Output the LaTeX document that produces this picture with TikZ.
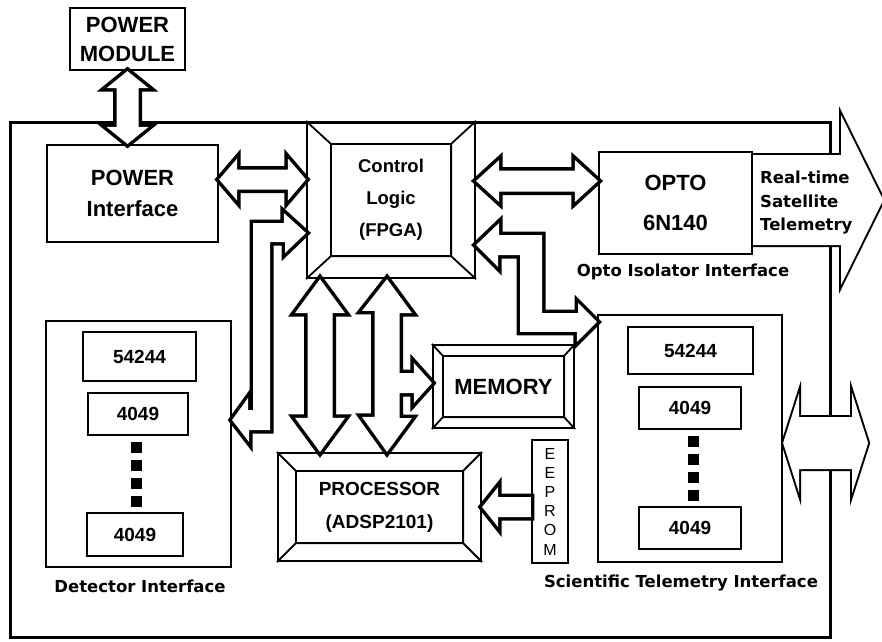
\documentclass[tikz,border=0pt]{standalone}
\usepackage{fontspec}
\setmainfont{Liberation Sans}
\newfontfamily\lblfont{DejaVu Sans}
\usetikzlibrary{calc,positioning}

\newcommand{\sz}[2]{\fontsize{#1}{#2}\selectfont}
\tikzset{
  box/.style={draw, line width=2.2pt, inner sep=0pt, align=center, font=\bfseries},
  chip/.style={box, font=\bfseries\sz{19}{22}},
  lbl/.style={inner sep=0pt, align=center, font=\lblfont\bfseries\sz{16.5}{23.5}},
  pipe/.style={line width=#1, line join=miter, postaction={fill=white}},
  pipe/.default=7pt,
  bev/.style={line width=1.8pt}
}
% tips #2 (left) and #3 (right), then head length, head half width, shaft half width
\newcommand{\hpipe}[6][7pt]{%
  \draw[pipe=#1] (#2) -- ++(#4,-#5) -- ++(0,#5-#6) -- ($(#3)+(-#4,-#6)$) -- ++(0,#6-#5) -- (#3)
    -- ++(-#4,#5) -- ++(0,#6-#5) -- ($(#2)+(#4,#6)$) -- ++(0,#5-#6) -- cycle;}
\newcommand{\vpipe}[6][7pt]{%
  \draw[pipe=#1] (#2) -- ++(#5,#4) -- ++(#6-#5,0) -- ($(#3)+(#6,-#4)$) -- ++(#5-#6,0) -- (#3)
    -- ++(-#5,-#4) -- ++(#5-#6,0) -- ($(#2)+(-#6,#4)$) -- ++(#6-#5,0) -- cycle;}
\newcommand{\bevel}[3]{%
  \draw[bev] ($(#1.north west)+(#2,#3)$) rectangle ($(#1.south east)+(-#2,-#3)$)
    (#1.north west) -- ++(#2,#3) (#1.north east) -- ++(-#2,#3)
    (#1.south west) -- ++(#2,-#3) (#1.south east) -- ++(-#2,-#3);}

\begin{document}
\begin{tikzpicture}[x=1pt, y=-1pt]
\useasboundingbox (0,0) rectangle (882,641);

\draw[line width=3pt] (10,122) rectangle (830,637);

\node[box, minimum width=115pt, minimum height=62pt, font=\bfseries\sz{22}{29}] (pm) at (127.5,39) {POWER\\MODULE};
\node[box, minimum width=171pt, minimum height=97pt, font=\bfseries\sz{22}{31}] (pwr) at (132.5,193.5) {POWER\\Interface};
\node[box, minimum width=168pt, minimum height=156pt, font=\bfseries\sz{18.5}{32}] (fpga) at (391,200) {Control\\Logic\\(FPGA)};
\node[box, minimum width=153pt, minimum height=102pt, font=\bfseries\sz{22}{40}] (opto) at (675.5,203) {OPTO\\6N140};
\node[box, minimum width=141pt, minimum height=83pt, font=\bfseries\sz{22}{26}] (mem) at (503.5,386.5) {MEMORY};
\node[box, minimum width=203pt, minimum height=108pt, font=\bfseries\sz{19}{33}] (proc) at (379.5,507) {PROCESSOR\\(ADSP2101)};
\node[box, minimum width=36pt, minimum height=123pt, font=\sz{16}{19.2}] (eep) at (550,501.5) {E\\E\\P\\R\\O\\M};

\node[box, minimum width=185pt, minimum height=246pt] (det) at (138.5,444) {};
\node[chip, minimum width=113pt, minimum height=49pt] (d1) at (139.5,356.5) {54244};
\node[chip, minimum width=100pt, minimum height=42pt] (d2) at (138,414) {4049};
\node[chip, minimum width=96pt, minimum height=43pt] (d3) at (135,534.5) {4049};

\node[box, minimum width=184pt, minimum height=247pt] (sci) at (690,438.5) {};
\node[chip, minimum width=125pt, minimum height=47pt] (s1) at (690.5,350.5) {54244};
\node[chip, minimum width=102pt, minimum height=42pt] (s2) at (690,408) {4049};
\node[chip, minimum width=102pt, minimum height=42pt] (s3) at (690,528) {4049};

\bevel{fpga}{25}{23}
\bevel{mem}{11}{12}
\bevel{proc}{19}{19}

\foreach \y in {447,465,483,501} \fill (130.5,\y-5.5) rectangle ++(11,11);
\foreach \y in {441,459,477,495} \fill (687.5,\y-5.5) rectangle ++(11,11);

\coordinate (pmt) at (pm.south);
\coordinate (pmb) at (pm.south |- pwr.north);
\coordinate (pw1) at ($(pwr.east)+(0,-14)$);
\coordinate (pw2) at (pw1 -| fpga.west);
\coordinate (op1) at ($(fpga.east)+(0,-19)$);
\coordinate (op2) at (op1 -| opto.west);
\coordinate (va) at ($(fpga.south)+(-71,0)$);
\coordinate (vab) at (va |- proc.north);
\coordinate (vb) at ($(fpga.south)+(-4,0)$);
\coordinate (vbb) at (vb |- proc.north);
\coordinate (ee) at (eep.west |- proc.east);
\coordinate (rt) at ($(opto.east)+(0,-3)$);
\coordinate (io1) at ($(sci.east)+(0,4.5)$);
\coordinate (io2) at ($(io1)+(85,0)$);

\vpipe{pmt}{pmb}{17}{21}{11}
\hpipe{pw1}{pw2}{18}{21}{10}
\hpipe{op1}{op2}{23}{21}{10.5}
\vpipe{va}{vab}{34}{25}{12.5}

% bus to processor with branch to memory
\draw[pipe] (vb) -- ++(25,34) -- ++(-12.5,0) |- ($(mem.west)+(-18,-13.5)$) -- ++(0,-10)
  -- ($(mem.west)+(0,-3.5)$) -- ++(-18,20) -- ++(0,-10) -| (399.5,418) -- ++(12.5,0)
  -- (vbb) -- ++(-25,-35) -- ++(12.5,0) -- ++(0,-106) -- ++(-12.5,0) -- cycle;

\draw[pipe] ($(fpga.west)+(0,33)$) -- ++(-22,-20) -- ++(0,10) -| (253,410) -- ++(-5,0) -- ++(0,-12)
  -- ($(det.east)+(0,-24)$) -- ++(17,22) -- ++(0,-12) -| (270,242) -- ++(15,0) -- ++(0,11) -- cycle;

\draw[pipe] ($(fpga.east)+(0,45)$) -- ++(23,-22) -- ++(0,12) -| (542,313) -- ++(36,0) -- ++(0,-10)
  -- ($(sci.north west)+(0,8)$) -- ++(-20,20) -- ++(0,-10) -| (520,255) -- ++(-22,0) -- ++(0,12) -- cycle;

\draw[pipe] (proc.east) -- ++(16,-20) -- ++(0,10) -- ($(ee)+(0,-10)$) -- ++(0,20)
  -- ($(proc.east)+(16,10)$) -- ++(0,10) -- cycle;

\draw[pipe=4pt] ($(rt)+(0,-45)$) -- ++(88,0) -- ++(0,-40) -- ($(rt)+(130,0)$) -- ++(-42,85)
  -- ++(0,-40) -- ($(rt)+(0,45)$) -- cycle;
\hpipe[4pt]{io1}{io2}{16}{50}{26}

\node[lbl] (detl) at (140,586) {Detector Interface};
\node[lbl] (scil) at (681,583) {Scientific Telemetry Interface};
\node[lbl] (optl) at (683,272) {Opto Isolator Interface};
\node[lbl, anchor=west, align=left] (rtl) at (760,203) {Real-time\\Satellite\\Telemetry};
\end{tikzpicture}
\end{document}
